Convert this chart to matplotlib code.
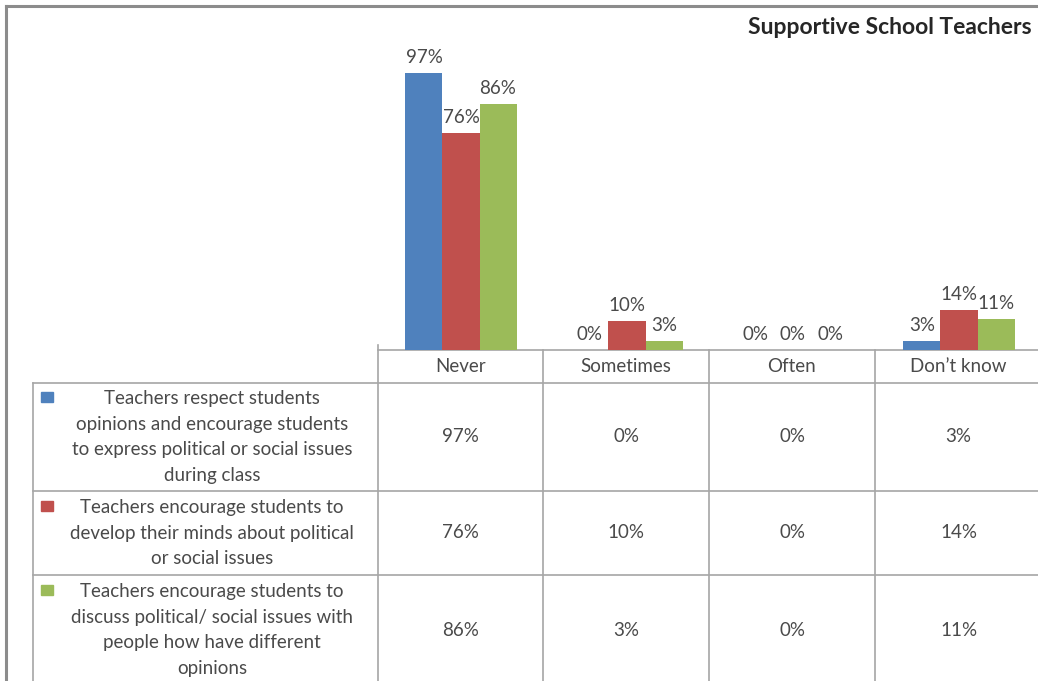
import matplotlib
matplotlib.use("Agg")
import matplotlib.pyplot as plt
from matplotlib.patches import Rectangle

categories = ["Never", "Sometimes", "Often", "Don\u2019t know"]
series_names = [
    "Teachers respect students\nopinions and encourage students\nto express political or social issues\nduring class",
    "Teachers encourage students to\ndevelop their minds about political\nor social issues",
    "Teachers encourage students to\ndiscuss political/ social issues with\npeople how have different\nopinions",
]
respect = [97, 0, 0, 3]
develop = [76, 10, 0, 14]
discuss = [86, 3, 0, 11]
series_values = [respect, develop, discuss]
colors = ["#4F81BD", "#C0504D", "#9BBB59"]
title = "Supportive School Teachers"

W, H = 1038, 681
plt.rcParams['font.family'] = ['Lato', 'DejaVu Sans']
fig = plt.figure(figsize=(W / 100, H / 100), dpi=100)

def fx(px):
    return px / W

def fy(py):
    return 1 - py / H

# Overlay axes in pixel coordinates for frame and table
ov = fig.add_axes([0, 0, 1, 1])
ov.set_xlim(0, W)
ov.set_ylim(H, 0)
ov.axis("off")

frame_c = "#8C8C8C"
ov.plot([6, 6], [6, H], color=frame_c, lw=2.2)
ov.plot([6, W], [6, 6], color=frame_c, lw=2.2)

# Bar axes
x_left, x_right = 378, 1042
y_base, y_top = 350, 64
ax = fig.add_axes([fx(x_left), fy(y_base), fx(x_right - x_left), (y_base - y_top) / H])
ax.set_xlim(-0.5, len(categories) - 0.5)
ax.set_ylim(0, 100)
ax.axis("off")

bw = 0.223
text_c = "#4A4A4A"
fs = 13.5
for i, (vals, c) in enumerate(zip(series_values, colors)):
    xs = [k + (i - 1) * bw for k in range(len(categories))]
    ax.bar(xs, vals, width=bw, color=c, edgecolor="none")
    for x, v in zip(xs, vals):
        ax.annotate(f"{v}%", (x, v), xytext=(0, 5), textcoords="offset points",
                    ha="center", va="bottom", fontsize=fs, color=text_c)

# Table
line_c = "#A6A6A6"
col_x = [378, 543, 709, 875, 1042]
row_y = [350, 383, 491, 575, 690]
ov.plot([378, W], [350, 350], color=line_c, lw=1.2)
for y in row_y[1:-1]:
    ov.plot([33, W], [y, y], color=line_c, lw=1.2)
ov.plot([33, 33], [383, H], color=line_c, lw=1.2)
for x in col_x[:-1]:
    ov.plot([x, x], [345 if x == 378 else 350, H], color=line_c, lw=1.2)

for j, cat in enumerate(categories):
    cx = (col_x[j] + col_x[j + 1]) / 2
    ov.text(cx, 367, cat, ha="center", va="center", fontsize=fs, color=text_c)

for i, (name, vals, c) in enumerate(zip(series_names, series_values, colors)):
    y0, y1 = row_y[i + 1], row_y[i + 2]
    cy = (y0 + min(y1, 685)) / 2
    ov.text(212, cy, name, ha="center", va="center", fontsize=fs, color=text_c,
            linespacing=1.62)
    n_lines = name.count("\n") + 1
    line_h = 25.7
    first_y = cy - (n_lines - 1) * line_h / 2
    ov.add_patch(Rectangle((41, first_y - 6), 12, 10, color=c))
    for j, v in enumerate(vals):
        cx = (col_x[j] + col_x[j + 1]) / 2
        ov.text(cx, cy, f"{v}%", ha="center", va="center", fontsize=fs, color=text_c)

ov.text(1032, 28, title, ha="right", va="center", fontsize=16.5, fontweight="bold",
        color="#262626")

fig.savefig("out.png", dpi=100)
